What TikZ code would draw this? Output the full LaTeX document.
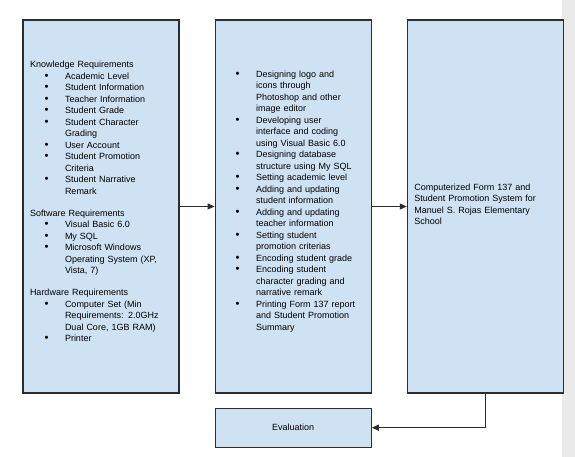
\documentclass[tikz,border=0pt]{standalone}
\usepackage{fontspec}
\setmainfont{Liberation Sans}
\usepackage{xcolor}
\definecolor{gdblue}{RGB}{207,226,243}
\definecolor{gdedge}{RGB}{45,45,45}
\definecolor{gdstrip}{RGB}{234,234,234}
\usepackage{tikz}
\usetikzlibrary{arrows.meta, positioning}

\newcommand{\bitem}{\makebox[35pt][l]{\hspace{14.5pt}\scalebox{1.25}{\textbullet}}}
\newcommand{\bcont}{\makebox[35pt]{}}

\begin{document}
\begin{tikzpicture}[x=1pt, y=-1pt,
  phase/.style={draw=gdedge, fill=gdblue, line width=1.2pt, minimum width=156pt,
                minimum height=373pt, inner sep=0pt},
  phasetext/.style={font=\fontsize{9pt}{11.5pt}\selectfont, align=left,
                    text width=142pt, inner sep=0pt},
  flow/.style={draw=gdedge, line width=1pt, -{Triangle[length=7pt, width=6pt]}}]
\useasboundingbox (0,0) rectangle (575,457);
\fill[gdstrip] (562,0) rectangle (575,457);

% input, process, output
\node[phase] (input) at (101,206.5) {};
\node[phase, right=35pt of input] (process) {};
\node[phase, right=35pt of process] (output) {};
\node[phase, minimum height=39pt, below=14pt of process] (evaluation)
  {\fontsize{9pt}{11.5pt}\selectfont Evaluation};

\node[phasetext, yshift=5pt] (inputtxt) at (input.center) {%
Knowledge Requirements\\
\bitem Academic Level\\
\bitem Student Information\\
\bitem Teacher Information\\
\bitem Student Grade\\
\bitem Student Character\\
\bcont Grading\\
\bitem User Account\\
\bitem Student Promotion\\
\bcont Criteria\\
\bitem Student Narrative\\
\bcont Remark\\[10.5pt]
Software Requirements\\
\bitem Visual Basic 6.0\\
\bitem My SQL\\
\bitem Microsoft Windows\\
\bcont Operating System (XP,\\
\bcont Vista, 7)\\[10.5pt]
Hardware Requirements\\
\bitem Computer Set (Min\\
\bcont Requirements: 2.0GHz\\
\bcont Dual Core, 1GB RAM)\\
\bitem Printer};

\node[phasetext, yshift=5pt, xshift=-1pt] (processtxt) at (process.center) {%
\bitem Designing logo and\\
\bcont icons through\\
\bcont Photoshop and other\\
\bcont image editor\\
\bitem Developing user\\
\bcont interface and coding\\
\bcont using Visual Basic 6.0\\
\bitem Designing database\\
\bcont structure using My SQL\\
\bitem Setting academic level\\
\bitem Adding and updating\\
\bcont student information\\
\bitem Adding and updating\\
\bcont teacher information\\
\bitem Setting student\\
\bcont promotion criterias\\
\bitem Encoding student grade\\
\bitem Encoding student\\
\bcont character grading and\\
\bcont narrative remark\\
\bitem Printing Form 137 report\\
\bcont and Student Promotion\\
\bcont Summary};

\node[phasetext, yshift=2pt] (outputtxt) at (output.center) {%
Computerized Form 137 and\\
Student Promotion System for\\
Manuel S. Rojas Elementary\\
School};

\draw[flow] (input) -- (process);
\draw[flow] (process) -- (output);
\draw[flow] (output.south) |- (evaluation.east);
\end{tikzpicture}
\end{document}
